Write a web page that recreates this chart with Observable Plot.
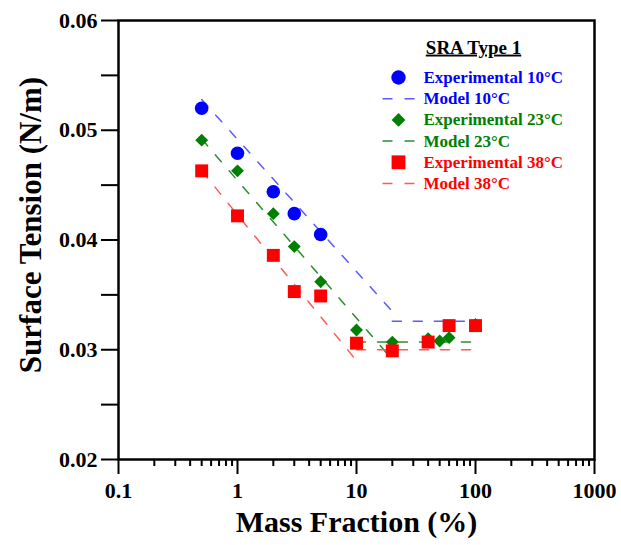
<!DOCTYPE html>
<html>
<head>
<meta charset="utf-8">
<script src="https://cdn.jsdelivr.net/npm/d3@7"></script>
<script src="https://cdn.jsdelivr.net/npm/@observablehq/plot@0.6"></script>
<style>
  html, body { margin: 0; padding: 0; background: #fff; }
  #chart { width: 621px; height: 545px; }
</style>
</head>
<body>
<div id="chart"></div>
<script>
// ---------- data ----------
const massFraction10 = [0.5, 1, 2, 3, 5];
const tension10      = [0.0520, 0.0479, 0.0444, 0.0424, 0.0405];

const massFraction23 = [0.5, 1, 2, 3, 5, 10, 20, 40, 50, 60, 100];
const tension23      = [0.0491, 0.0463, 0.0424, 0.0394, 0.0362, 0.0318, 0.0307, 0.0310, 0.0308, 0.0311, 0.0323];

const massFraction38 = [0.5, 1, 2, 3, 5, 10, 20, 40, 60, 100];
const tension38      = [0.0463, 0.0422, 0.0386, 0.0353, 0.0349, 0.0306, 0.0299, 0.0307, 0.0322, 0.0322];

// model curves: sloped segment then plateau
const modelX10   = [0.5, 22, 20, 100];
const modelY10   = [0.0528, 0.0330, 0.0326, 0.0326];
const modelSeg10 = ["slope", "slope", "plateau", "plateau"];

const modelX23   = [0.5, 20, 10, 100];
const modelY23   = [0.0492, 0.0291, 0.0307, 0.0307];
const modelSeg23 = ["slope", "slope", "plateau", "plateau"];

const modelX38   = [0.5, 10, 10, 100];
const modelY38   = [0.0463, 0.0290, 0.0300, 0.0300];
const modelSeg38 = ["slope", "slope", "plateau", "plateau"];

const xMajorTicks = [0.1, 1, 10, 100, 1000];
const xMinorTicks = [0.2,0.3,0.4,0.5,0.6,0.7,0.8,0.9, 2,3,4,5,6,7,8,9, 20,30,40,50,60,70,80,90, 200,300,400,500,600,700,800,900];
const yMajorTicks = [0.02, 0.03, 0.04, 0.05, 0.06];
const yMinorTicks = [0.025, 0.035, 0.045, 0.055];

const legendTitle  = "SRA Type 1";
const legendLabels = ["Experimental 10°C", "Model 10°C", "Experimental 23°C", "Model 23°C", "Experimental 38°C", "Model 38°C"];

// ---------- styles ----------
const textColors  = ["#0000ff", "#0000ff", "#008000", "#008000", "#ff0000", "#ff0000"];
const pointColors = { c10: "#0000ff", c23: "#007f00", c38: "#ff0000" };
const lineColors  = { c10: "#5a5aff", c23: "#2a8f2a", c38: "#ff5a5a" };
const dash = "9,12";

const toRows = (xs, ys, zs) => xs.map((x, i) => ({x, y: ys[i], z: zs ? zs[i] : null}));

const dashSymbol = { draw(ctx) { ctx.moveTo(-16, 0); ctx.lineTo(16, 0); } };

// legend layout (pixel offsets from the frame's top-left corner)
const legSymDx = 280, legTextDx = 305, legTop = 57, legStep = 21.2;

const legendMarks = [];
legendMarks.push(Plot.text([legendTitle], {frameAnchor: "top-left", dx: 355, dy: 27, fontSize: 19, textAnchor: "middle", lineAnchor: "middle", fill: "#000"}));
const legendSymbols = [
  {symbol: "circle", r: 7.2, fill: pointColors.c10},
  {symbol: dashSymbol, r: 3, fill: "none", stroke: lineColors.c10, strokeWidth: 1.5, strokeDasharray: "10,12"},
  {symbol: "diamond2", r: 6.2, fill: pointColors.c23},
  {symbol: dashSymbol, r: 3, fill: "none", stroke: lineColors.c23, strokeWidth: 1.5, strokeDasharray: "10,12"},
  {symbol: "square", r: 7.8, fill: pointColors.c38},
  {symbol: dashSymbol, r: 3, fill: "none", stroke: lineColors.c38, strokeWidth: 1.5, strokeDasharray: "10,12"}
];
legendLabels.forEach((label, i) => {
  const dy = legTop + i * legStep;
  legendMarks.push(Plot.dot([label], {frameAnchor: "top-left", dx: legSymDx, dy, ...legendSymbols[i]}));
  legendMarks.push(Plot.text([label], {frameAnchor: "top-left", dx: legTextDx, dy, fontSize: 17, textAnchor: "start", lineAnchor: "middle", fill: textColors[i]}));
});

const chart = Plot.plot({
  width: 621,
  height: 545,
  marginLeft: 118,
  marginRight: 27,
  marginTop: 20,
  marginBottom: 86,
  style: {fontFamily: "'Liberation Serif', 'Times New Roman', serif", fontWeight: "bold", background: "#fff", color: "#000", overflow: "visible"},
  x: {type: "log", domain: [0.1, 1000], label: null},
  y: {domain: [0.02, 0.06], label: null},
  marks: [
    Plot.line(toRows(modelX10, modelY10, modelSeg10), {x: "x", y: "y", z: "z", stroke: lineColors.c10, strokeWidth: 1.5, strokeDasharray: dash}),
    Plot.line(toRows(modelX23, modelY23, modelSeg23), {x: "x", y: "y", z: "z", stroke: lineColors.c23, strokeWidth: 1.5, strokeDasharray: dash}),
    Plot.line(toRows(modelX38, modelY38, modelSeg38), {x: "x", y: "y", z: "z", stroke: lineColors.c38, strokeWidth: 1.5, strokeDasharray: dash}),
    Plot.dot(toRows(massFraction10, tension10), {x: "x", y: "y", symbol: "circle", r: 6.8, fill: pointColors.c10}),
    Plot.dot(toRows(massFraction23, tension23), {x: "x", y: "y", symbol: "diamond2", r: 5.8, fill: pointColors.c23}),
    Plot.dot(toRows(massFraction38, tension38), {x: "x", y: "y", symbol: "square", r: 7.3, fill: pointColors.c38}),
    Plot.axisX({ticks: xMajorTicks, tickSize: 15, tickPadding: 8, tickFormat: d => String(d), fontSize: 22, strokeWidth: 2, label: null}),
    Plot.axisX({ticks: xMinorTicks, tickSize: 7, text: null, strokeWidth: 2, label: null}),
    Plot.axisY({ticks: yMajorTicks, tickSize: 17, tickPadding: 4, tickFormat: d3.format(".2f"), fontSize: 22, strokeWidth: 2, label: null}),
    Plot.axisY({ticks: yMinorTicks, tickSize: 17, text: null, strokeWidth: 2, label: null}),
    Plot.frame({stroke: "#000", strokeWidth: 2.5}),
    Plot.text(["Mass Fraction (%)"], {frameAnchor: "bottom", dy: 63, fontSize: 30, textAnchor: "middle", lineAnchor: "middle", fill: "#000"}),
    Plot.text(["Surface Tension (N/m)"], {frameAnchor: "left", dx: -87, dy: -15, rotate: -90, fontSize: 31, textAnchor: "middle", lineAnchor: "middle", fill: "#000"}),
    ...legendMarks
  ]
});

document.getElementById("chart").appendChild(chart);
d3.select(chart).selectAll("text").filter(function () { return this.textContent === legendTitle; })
  .attr("text-decoration", "underline");
</script>
</body>
</html>
